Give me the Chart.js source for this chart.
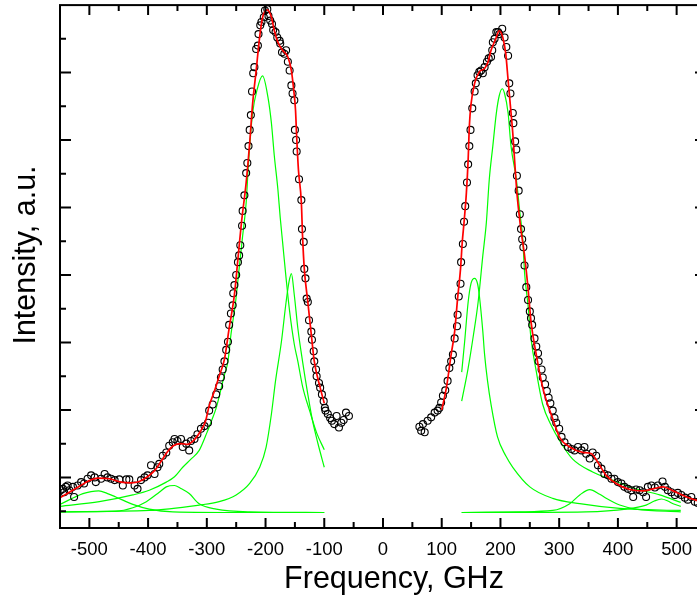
<!DOCTYPE html>
<html>
<head>
<meta charset="utf-8">
<title>Spectrum fit</title>
<script src="https://cdn.jsdelivr.net/npm/chart.js@4.4.1/dist/chart.umd.min.js"></script>
<style>
html,body{margin:0;padding:0;overflow:hidden;background:#fff}
.con{width:720px;height:598px}
</style>
</head>
<body>
<div class="con"><canvas id="spectrum" width="720" height="598"></canvas></div>
<script>
// measured points, below and above the gap
const leftFreq = [-549,-545,-543,-540,-537,-534,-528,-526,-520,-514,
    -509,-503,-497,-491,-489,-480,-474,-469,-463,-457,
    -449,-443,-437,-432,-423,-418,-412,-406,-401,-395,
    -389,-384,-381,-375,-369,-364,-358,-355,-350,-344,
    -341,-335,-330,-327,-321,-316,-310,-304,-298,-296,
    -290,-284,-279,-276,-273,-270,-267,-264,-262,-259,
    -256,-255,-253,-250,-247,-245,-243,-240,-239,-236,
    -233,-231,-229,-227,-225,-223,-221,-219,-216,-213,
    -212,-209,-207,-203,-201,-197,-195,-192,-189,-187,
    -183,-180,-176,-175,-172,-168,-165,-162,-159,-156,
    -154,-151,-150,-148,-147,-143,-139,-138,-135,-134,
    -132,-130,-128,-126,-122,-121,-118,-117,-114,-113,
    -109,-107,-104,-101,-99,-98,-94,-90,-87,-83,
    -79,-75,-71,-67,-63,-58]
const leftInt = [-19,-17,-22,-14,-12,-19,-14,-29,-12,-7,
    -9,-2,3,0,-7,-2,5,0,-2,-4,
    -3,-12,-3,-3,-12,-17,-4,0,3,18,
    5,15,20,32,37,47,52,57,54,57,
    45,50,40,54,57,64,72,76,81,99,
    108,123,135,148,160,172,189,201,226,243,
    255,273,285,300,319,329,344,373,395,418,
    451,466,491,515,537,572,599,608,635,640,
    657,670,675,682,692,694,684,677,672,663,
    660,652,647,643,630,628,633,616,603,581,
    569,559,515,500,483,442,411,368,349,309,
    295,265,260,233,216,204,187,172,160,150,
    140,133,123,113,103,99,94,88,84,79,
    91,74,81,85,96,91]

const rightFreq = [62,65,68,71,76,82,88,93,96,99,
    102,106,110,113,116,119,122,126,127,129,
    132,133,136,138,140,143,145,147,149,152,
    156,158,161,164,167,170,173,177,180,184,
    186,187,190,193,196,198,203,207,210,213,
    215,217,221,222,225,227,228,231,233,235,
    237,239,241,244,247,250,252,254,258,261,
    264,265,270,272,276,279,282,285,289,292,
    295,300,304,309,315,321,326,332,338,343,
    346,352,357,363,366,372,377,383,389,394,
    400,406,411,417,423,426,431,437,443,448,
    451,457,463,468,476,480,485,491,497,502,
    508,514,519,525,531,536,543,549]
const rightInt = [75,69,79,67,84,89,96,99,103,111,
    121,129,143,162,172,182,206,224,241,268,
    287,319,346,379,402,437,464,491,515,547,
    572,584,596,601,603,599,608,616,621,623,
    633,645,650,660,660,657,665,652,638,625,
    584,569,540,525,498,486,447,425,390,368,
    353,341,314,282,263,246,236,226,206,194,
    184,172,160,148,138,128,118,110,99,88,
    81,72,60,52,45,42,40,45,40,45,
    35,28,37,32,18,13,5,3,-2,-2,
    -7,-9,-14,-17,-19,-29,-18,-19,-22,-29,
    -14,-12,-15,-12,-6,-14,-19,-22,-26,-23,
    -26,-30,-33,-29,-36,-38,-40,-43]

// fitted sum (red)
const fitLeftFreq = [-550,-526,-503,-486,-466,-446,-429,-415,-401,-389,-377,-367,-357,-344,-333,-321,-311,-302,-296,-287,
    -279,-270,-262,-253,-247,-241,-233,-227,-222,-216,-210,-205,-197,-190,-185,-179,-171,-162,-156,-152,
    -149,-147,-144,-139,-137,-134,-128,-122,-117,-107,-100]
const fitLeftInt = [-30,-18,-6,-1,-2,-7,-8,-6,1,10,25,38,47,50,49,56,68,84,106,128,
    150,175,221,271,324,378,437,496,554,603,653,682,693,682,662,645,633,623,603,574,
    545,505,456,407,358,309,260,211,172,133,110]
const fitRightFreq = [100,108,116,122,127,132,135,138,142,145,147,150,156,164,173,179,184,192,198,204,
    209,213,217,221,224,228,234,241,247,252,261,272,280,289,301,318,340,355,366,380,
    397,420,443,460,477,494,517,534,550]
const fitRightInt = [100,133,182,216,265,309,349,378,422,471,520,554,584,601,606,616,633,650,662,652,
    628,589,550,510,471,422,373,329,280,231,182,133,109,87,59,45,37,35,22,3,
    -9,-18,-20,-17,-14,-20,-29,-34,-38]

// fitted components (green)
const peakAFreq = [-550,-483,-426,-398,-369,-355,-341,-327,-313,-300,-292,-284,-270,-264,-259,-251,-245,-239,-233,-229,
    -222,-214,-205,-196,-190,-185,-179,-175,-171,-165,-159,-151,-145,-137,-125,-113,-100]
const peakAInt = [-43,-36,-26,-19,-7,1,15,27,40,66,84,103,152,172,211,260,309,358,407,466,
    540,576,595,564,525,476,427,385,349,295,246,197,172,135,99,66,41]
const peakBFreq = [-550,-398,-313,-279,-250,-227,-210,-199,-190,-183,-173,-165,-160,-156,-151,-145,-137,-128,-120,-111,-100]
const peakBInt = [-51,-49,-41,-36,-26,-9,15,45,94,143,201,260,290,302,270,221,172,123,84,51,15]
const peakCFreq = [-550,-511,-497,-484,-469,-455,-426,-398,-358,-227,-100]
const peakCInt = [-40,-24,-21,-20,-24,-29,-40,-47,-51,-52,-52]
const peakDFreq = [-550,-455,-426,-403,-381,-369,-355,-345,-330,-313,-284,-227,-100]
const peakDInt = [-51,-50,-45,-36,-22,-14,-12,-16,-24,-39,-47,-51,-52]

const peakEFreq = [134,145,154,162,170,176,181,187,193,198,203,207,213,218,227,233,238,241,247,252,
    261,272,287,301,323,357,391,431,471,507]
const peakEInt = [113,162,211,260,329,378,442,491,540,566,576,569,540,491,442,393,353,304,255,206,
    157,108,76,54,27,8,-4,-17,-26,-37]
const peakFFreq = [134,139,145,150,156,161,164,170,173,178,184,195,209,221,250,289,335,403,507]
const peakFInt = [156,201,260,288,295,287,270,216,182,143,108,60,32,15,-14,-31,-39,-46,-49]
const peakGFreq = [134,233,289,318,335,352,369,380,403,431,507]
const peakGInt = [-52,-51,-49,-39,-26,-18,-25,-31,-41,-47,-51]
const peakHFreq = [134,346,414,448,462,474,485,494,507]
const peakHInt = [-52,-51,-47,-41,-35,-32,-35,-39,-43]

const freqTicks = [-500,-400,-300,-200,-100,0,100,200,300,400,500]
const fontName = '"Liberation Sans", Arial, sans-serif'

function pairs(xs, ys){
    return xs.map((v, i) => ({x: v, y: ys[i]}))
}
function curve(xs, ys, color, width){
    return {
        data: pairs(xs, ys),
        showLine: true,
        borderColor: color,
        borderWidth: width,
        pointRadius: 0,
        cubicInterpolationMode: 'monotone'
    }
}
function dots(xs, ys){
    return {
        data: pairs(xs, ys),
        showLine: false,
        pointRadius: 3.5,
        borderWidth: 1.1,
        borderColor: '#000',
        backgroundColor: 'rgba(0,0,0,0)'
    }
}

//Frame, inward ticks and axis titles
const frameTicks = {
    id: 'frameTicks',
    afterDraw(chart){
        const {ctx, chartArea: a, scales: {x, y}} = chart
        ctx.save()
        ctx.strokeStyle = '#000'
        ctx.lineWidth = 2
        ctx.strokeRect(a.left, a.top, a.right - a.left, a.bottom - a.top)
        ctx.beginPath()
        for(let v = -500; v <= 500; v += 50){
            const px = x.getPixelForValue(v)
            const len = v % 100 === 0 ? 10 : 6
            ctx.moveTo(px, a.bottom); ctx.lineTo(px, a.bottom - len)
            ctx.moveTo(px, a.top); ctx.lineTo(px, a.top + len)
        }
        for(let v = -50; v < 700; v += 50){
            const py = y.getPixelForValue(v)
            const len = v % 100 === 0 ? 11 : 6
            ctx.moveTo(a.left, py); ctx.lineTo(a.left + len, py)
            ctx.moveTo(a.right, py); ctx.lineTo(a.right - len, py)
        }
        ctx.stroke()
        ctx.fillStyle = '#000'
        ctx.font = '30.5px ' + fontName
        ctx.textAlign = 'center'
        ctx.textBaseline = 'alphabetic'
        ctx.fillText('Frequency, GHz', 394, 588)
        ctx.translate(35, 255)
        ctx.rotate(-Math.PI / 2)
        ctx.fillText('Intensity, a.u.', 0, 0)
        ctx.restore()
    }
}

const ctx = document.getElementById('spectrum').getContext('2d')
const spectrumChart = new Chart(ctx, {
    type: 'scatter',
    data: {
        datasets: [
            curve(fitLeftFreq, fitLeftInt, '#ff0000', 1.7),
            curve(fitRightFreq, fitRightInt, '#ff0000', 1.7),
            dots(leftFreq, leftInt),
            dots(rightFreq, rightInt),
            curve(peakAFreq, peakAInt, '#00ff00', 1.2),
            curve(peakBFreq, peakBInt, '#00ff00', 1.2),
            curve(peakCFreq, peakCInt, '#00ff00', 1.2),
            curve(peakDFreq, peakDInt, '#00ff00', 1.2),
            curve(peakEFreq, peakEInt, '#00ff00', 1.2),
            curve(peakFFreq, peakFInt, '#00ff00', 1.2),
            curve(peakGFreq, peakGInt, '#00ff00', 1.2),
            curve(peakHFreq, peakHInt, '#00ff00', 1.2)
        ]
    },
    options: {
        responsive: false,
        animation: false,
        devicePixelRatio: 1,
        layout: {padding: {top: 2, right: 14, left: 0, bottom: 0}},
        plugins: {legend: {display: false}, tooltip: {enabled: false}},
        scales: {
            x: {
                type: 'linear',
                min: -550,
                max: 550,
                grid: {display: false, drawTicks: false},
                border: {display: false},
                afterBuildTicks: scale => { scale.ticks = freqTicks.map(v => ({value: v})) },
                afterFit: scale => { scale.height = 70 },
                ticks: {
                    autoSkip: false,
                    maxRotation: 0,
                    padding: 11,
                    color: '#000',
                    font: {family: fontName, size: 18.5}
                }
            },
            y: {
                type: 'linear',
                min: -75,
                max: 700,
                grid: {display: false, drawTicks: false},
                border: {display: false},
                ticks: {display: false},
                afterFit: scale => { scale.width = 60 }
            }
        }
    },
    plugins: [frameTicks]
})
</script>
</body>
</html>
